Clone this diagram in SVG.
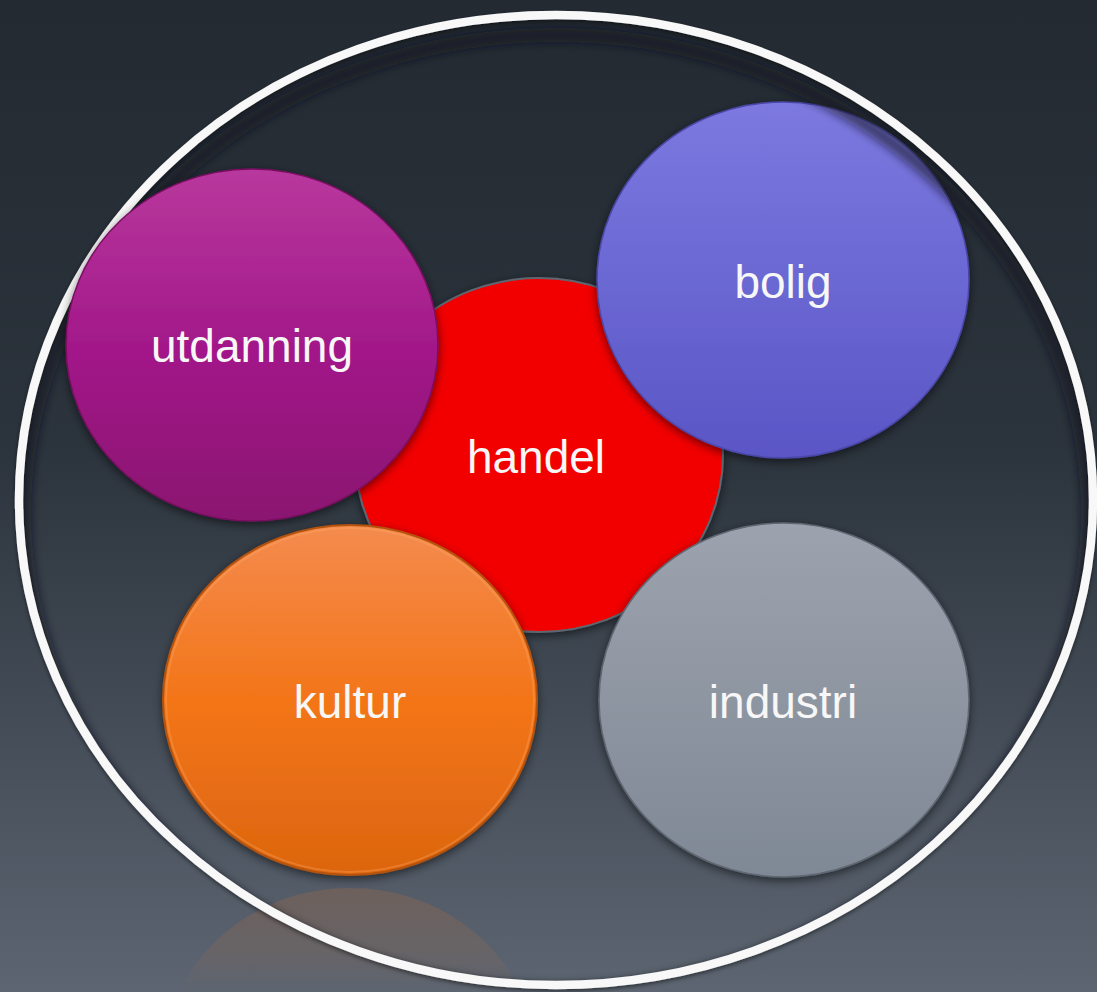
<svg xmlns="http://www.w3.org/2000/svg" width="1097" height="992" viewBox="0 0 1097 992">
  <defs>
    <linearGradient id="bg" x1="0" y1="0" x2="0" y2="1">
      <stop offset="0" stop-color="#232a32"/>
      <stop offset="0.45" stop-color="#2b333c"/>
      <stop offset="1" stop-color="#5c6571"/>
    </linearGradient>
    <linearGradient id="gUtd" x1="0" y1="0" x2="0" y2="1">
      <stop offset="0" stop-color="#b8389d"/>
      <stop offset="0.5" stop-color="#a3198a"/>
      <stop offset="1" stop-color="#8a1470"/>
    </linearGradient>
    <linearGradient id="gBolig" x1="0" y1="0" x2="0" y2="1">
      <stop offset="0" stop-color="#7c79e0"/>
      <stop offset="1" stop-color="#5a56c6"/>
    </linearGradient>
    <linearGradient id="gKultur" x1="0" y1="0" x2="0" y2="1">
      <stop offset="0" stop-color="#f48b4e"/>
      <stop offset="0.5" stop-color="#f37518"/>
      <stop offset="1" stop-color="#dc650f"/>
    </linearGradient>
    <linearGradient id="gInd" x1="0" y1="0" x2="0" y2="1">
      <stop offset="0" stop-color="#9ca3ae"/>
      <stop offset="1" stop-color="#7f8895"/>
    </linearGradient>
    <linearGradient id="gRefl" x1="0" y1="0" x2="0" y2="1">
      <stop offset="0" stop-color="#f07828" stop-opacity="0.17"/>
      <stop offset="0.18" stop-color="#f07828" stop-opacity="0.1"/>
      <stop offset="0.3" stop-color="#f07828" stop-opacity="0"/>
    </linearGradient>
    <filter id="shadow" x="-20%" y="-20%" width="140%" height="140%">
      <feDropShadow dx="0" dy="3" stdDeviation="5" flood-color="#000" flood-opacity="0.55"/>
    </filter>
    <filter id="blur" x="-10%" y="-10%" width="120%" height="120%">
      <feGaussianBlur stdDeviation="5"/>
    </filter>
    <filter id="ringShadow" x="-10%" y="-10%" width="120%" height="120%">
      <feDropShadow dx="0" dy="2" stdDeviation="2" flood-color="#000" flood-opacity="0.5"/>
    </filter>
    <clipPath id="inside">
      <ellipse cx="556" cy="500" rx="537" ry="485"/>
    </clipPath>
  </defs>
  <style>
    .lbl { font-family: "Liberation Sans", Arial, sans-serif; font-size: 46px; fill: #f7f7f7; text-anchor: middle; }
    .node { filter: url(#shadow); }
  </style>

  <rect x="0" y="0" width="1097" height="992" fill="url(#bg)"/>

  <!-- reflection of kultur -->
  <ellipse cx="350" cy="1063" rx="187" ry="175" fill="url(#gRefl)"/>

  <g id="handel">
    <ellipse class="node" cx="539" cy="455" rx="184" ry="177" fill="#f20000" stroke="#5e6670" stroke-width="2"/>
    <text class="lbl" x="536" y="473">handel</text>
  </g>

  <g id="bolig">
    <ellipse class="node" cx="783" cy="280" rx="186" ry="178" fill="url(#gBolig)" stroke="#4b47a8" stroke-width="1.5"/>
    <text class="lbl" x="783" y="298">bolig</text>
  </g>

  <!-- big ring -->
  <g id="ring">
    <g clip-path="url(#inside)">
      <ellipse cx="556" cy="513" rx="532" ry="478" fill="none" stroke="#11151a" stroke-opacity="0.6" stroke-width="14" filter="url(#blur)"/>
    </g>
    <ellipse cx="556" cy="500" rx="537" ry="485" fill="none" stroke="#f8f8f8" stroke-width="8.5" filter="url(#ringShadow)"/>
  </g>

  <g id="utdanning">
    <ellipse class="node" cx="252" cy="345" rx="186" ry="176" fill="url(#gUtd)" stroke="#7a0f62" stroke-width="1.5"/>
    <text class="lbl" x="252" y="362">utdanning</text>
  </g>

  <g id="kultur">
    <ellipse class="node" cx="350" cy="700" rx="187" ry="175" fill="url(#gKultur)" stroke="#b4520c" stroke-width="2"/>
    <ellipse cx="350" cy="700" rx="184" ry="172" fill="none" stroke="#ffb070" stroke-opacity="0.3" stroke-width="2"/>
    <text class="lbl" x="350" y="718">kultur</text>
  </g>

  <g id="industri">
    <ellipse class="node" cx="784" cy="700" rx="185" ry="177" fill="url(#gInd)" stroke="#5f6772" stroke-width="1.5"/>
    <text class="lbl" x="783" y="718">industri</text>
  </g>
</svg>
